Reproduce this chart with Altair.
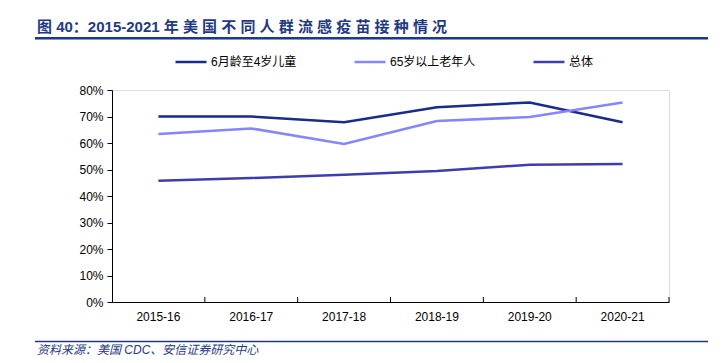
import altair as alt
import pandas as pd

seasons = ["2015-16", "2016-17", "2017-18", "2018-19", "2019-20", "2020-21"]
series_names = ["6月龄至4岁儿童", "65岁以上老年人", "总体"]
children = [70.0, 70.0, 67.8, 73.5, 75.3, 67.8]
elderly = [63.4, 65.5, 59.6, 68.3, 69.8, 75.3]
overall = [45.8, 46.8, 48.0, 49.4, 51.8, 52.1]
colors = ["#1A2B8C", "#8585FF", "#3D3DB0"]
y_ticks = [0, 10, 20, 30, 40, 50, 60, 70, 80]

title_text = ["图 40：2015-2021 年 美 国 不 同 人 群 流 感 疫 苗 接 种 情 况"]
source_text = ["资料来源：美国 CDC、安信证券研究中心"]

rows = []
for name, vals in zip(series_names, [children, elderly, overall]):
    for s, v in zip(seasons, vals):
        rows.append({"season": s, "series": name, "value": v})
df = pd.DataFrame(rows)

FONT = "Liberation Sans, Arial, Noto Sans CJK SC"
W, H = 557, 212

x_enc = alt.X("season:N", sort=seasons, title=None,
              scale=alt.Scale(paddingInner=0, paddingOuter=0),
              axis=alt.Axis(labelAngle=0, ticks=False, domainColor="#000000",
                            domainWidth=1, labelFont=FONT, labelFontSize=12,
                            labelColor="#000000", labelPadding=9, grid=False))

lines = alt.Chart(df).mark_line(strokeWidth=2.5).encode(
    x=x_enc,
    y=alt.Y("value:Q", title=None,
            scale=alt.Scale(domain=[0, 80], nice=False),
            axis=alt.Axis(values=y_ticks, labelExpr="datum.value + '%'",
                          grid=False, domainColor="#000000", tickColor="#000000",
                          tickSize=5, labelFont=FONT, labelFontSize=12,
                          labelColor="#000000", labelPadding=4)),
    color=alt.Color("series:N", sort=series_names,
                    scale=alt.Scale(domain=series_names, range=colors),
                    legend=alt.Legend(title=None, orient="none", legendX=62, legendY=-45,
                                      direction="horizontal", symbolType="stroke",
                                      symbolSize=961, symbolStrokeWidth=2.5,
                                      labelFont=FONT, labelFontSize=12, labelColor="#000000",
                                      labelOffset=3, columnPadding=52, gridAlign="all")),
    order=alt.Order("season:N"),
)

tick_df = pd.DataFrame({"season": seasons})
ticks = alt.Chart(tick_df).mark_rule(color="#000000", strokeWidth=1).encode(
    x=alt.X("season:N", sort=seasons, bandPosition=1),
    y=alt.value(H - 5),
    y2=alt.value(H),
)

tdf = pd.DataFrame({"t": title_text})
title = alt.Chart(tdf).mark_text(align="left", baseline="alphabetic", fontSize=15,
                                 fontWeight="bold", font=FONT, color="#1F3A82").encode(
    text="t:N", x=alt.value(-75), y=alt.value(-58))
title_rule = alt.Chart(tdf).mark_rule(color="#1F3A82", strokeWidth=2).encode(
    x=alt.value(-77), x2=alt.value(596), y=alt.value(-52))
title_rule2 = alt.Chart(tdf).mark_rule(color="#7F95D0", strokeWidth=1).encode(
    x=alt.value(-77), x2=alt.value(596), y=alt.value(-50.5))

sdf = pd.DataFrame({"t": source_text})
source = alt.Chart(sdf).mark_text(align="left", baseline="alphabetic", fontSize=12,
                                  fontStyle="italic", font=FONT, color="#1F3A82").encode(
    text="t:N", x=alt.value(-75), y=alt.value(263.5))
source_rule = alt.Chart(sdf).mark_rule(color="#1F3A82", strokeWidth=1.5).encode(
    x=alt.value(-77), x2=alt.value(596), y=alt.value(251.5))

chart = alt.layer(lines, ticks, title, title_rule, title_rule2, source, source_rule).properties(
    width=W, height=H,
    autosize=alt.AutoSizeParams(type="none"),
    padding={"left": 104, "top": 82, "right": 48, "bottom": 53},
).configure_view(stroke=None).configure(background="#FFFFFF")

chart.save("out.html", embed_options={"renderer": "svg", "actions": False})
